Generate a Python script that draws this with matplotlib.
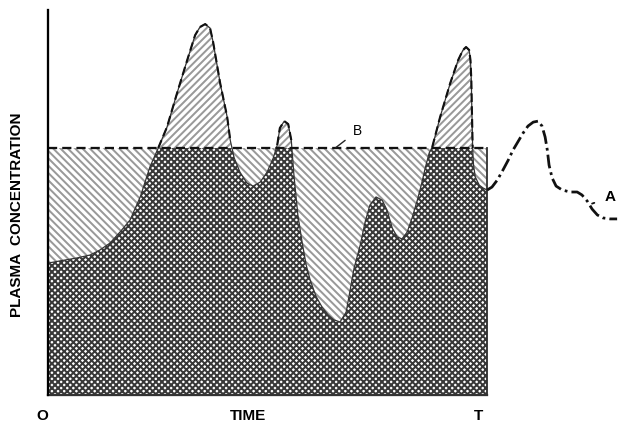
import numpy as np
import matplotlib
matplotlib.use("Agg")
import matplotlib.pyplot as plt

plt.rcParams['font.family'] = ['Liberation Sans', 'DejaVu Sans']
plt.rcParams['hatch.linewidth'] = 1.3

# plasma concentration (curve A) over the dosing interval 0..T
t_in = [0.00, 0.27, 0.66, 0.96, 1.18, 1.41, 1.64, 1.87, 2.10, 2.32, 2.51, 2.71,
        2.94, 3.17, 3.35, 3.46, 3.58, 3.69, 3.76, 3.92, 4.08, 4.15, 4.24, 4.37,
        4.53, 4.67, 4.83, 4.99, 5.13, 5.22, 5.28, 5.38, 5.47, 5.54, 5.60, 5.69,
        5.79, 5.88, 5.97, 6.10, 6.24, 6.38, 6.51, 6.65, 6.79, 6.88, 6.97, 7.11,
        7.22, 7.33, 7.47, 7.61, 7.72, 7.84, 7.95, 8.06, 8.18, 8.29, 8.41, 8.50,
        8.59, 8.68, 8.75, 8.93, 9.16, 9.34, 9.45, 9.52, 9.59, 9.62, 9.64, 9.65,
        9.66, 9.67, 9.69, 9.73, 9.82, 9.91, 10.00]
c_in = [5.34, 5.43, 5.55, 5.67, 5.87, 6.15, 6.60, 7.09, 8.02, 9.23, 10.00, 10.85,
        12.23, 13.56, 14.57, 14.90, 15.02, 14.86, 14.29, 12.63, 11.26, 10.32, 9.60, 9.03,
        8.58, 8.46, 8.62, 9.03, 9.60, 10.12, 10.81, 11.09, 10.97, 10.32, 8.91, 7.29,
        6.15, 5.26, 4.66, 4.01, 3.56, 3.24, 3.04, 2.96, 3.36, 4.25, 5.14, 6.07,
        7.00, 7.69, 8.02, 7.89, 7.49, 6.76, 6.40, 6.32, 6.60, 7.17, 7.89, 8.50,
        9.19, 9.80, 10.04, 11.26, 12.63, 13.56, 13.97, 14.09, 13.97, 13.56, 12.75, 11.74,
        10.93, 10.00, 9.31, 8.83, 8.50, 8.38, 8.30]

# curve A after T
t_out = [10.00, 10.11, 10.23, 10.36, 10.48, 10.59, 10.71, 10.82, 10.93, 11.05,
         11.16, 11.25, 11.32, 11.37, 11.41, 11.48, 11.57, 11.71, 11.89, 12.05,
         12.16, 12.28, 12.39, 12.51, 12.64, 12.80, 12.96]
c_out = [8.30, 8.42, 8.70, 9.11, 9.51, 9.92, 10.28, 10.61, 10.89, 11.05,
         11.09, 10.89, 10.45, 9.92, 9.31, 8.79, 8.46, 8.30, 8.22, 8.22,
         8.10, 7.85, 7.53, 7.29, 7.17, 7.13, 7.13]

T = 10.0
B = 10.0  # level of line B

t = np.array(t_in)
c = np.array(c_in)

fig = plt.figure(figsize=(618 / 110, 422 / 110), dpi=110)
ax = fig.add_axes([48 / 618, 27 / 422, 570 / 618, 385 / 422])
ax.set_xlim(0, 12.98)
ax.set_ylim(0, 15.59)

# area under curve, capped at B
ax.fill_between(t, 0, c, facecolor='white', edgecolor='#383838', hatch='xxxxxx', linewidth=0)
# curve above B
ax.fill_between(t, B, c, where=c > B, interpolate=True, facecolor='white',
                edgecolor='#999999', hatch='/////', linewidth=0)
# gap between curve and B
ax.fill_between(t, c, B, where=c < B, interpolate=True, facecolor='white',
                edgecolor='#999999', hatch='\\\\\\\\\\', linewidth=0)

# outline of curve inside the interval
ax.plot(t, c, color='#333333', lw=0.8)
ax.plot(t, np.ma.masked_where(c < B, c), color='#111111', lw=1.4, ls=(0, (4, 2)))

# line B and the box edges
ax.plot([0, T], [B, B], color='#111111', lw=1.5, ls=(0, (4, 2.2)))
ax.plot([T, T], [0, B], color='#333333', lw=1.2)
ax.plot([0, T], [0, 0], color='#333333', lw=1.5, clip_on=False)

# curve A continuing after T
ax.plot(t_out, c_out, color='#111111', lw=1.8, ls=(0, (5, 1.5, 1, 1.5)), clip_on=False)

for side in ['top', 'right', 'bottom']:
    ax.spines[side].set_visible(False)
ax.spines['left'].set_linewidth(1.5)
ax.set_xticks([])
ax.set_yticks([])

# labels
ax.text(-0.14, -0.55, 'O', ha='center', va='top', fontsize=10, fontweight='bold')
ax.text(4.55, -0.55, 'TIME', ha='center', va='top', fontsize=10, fontweight='bold')
ax.text(9.80, -0.55, 'T', ha='center', va='top', fontsize=10, fontweight='bold')
ax.text(-0.7, 7.3, 'PLASMA  CONCENTRATION', rotation=90, ha='center', va='center',
        fontsize=10, fontweight='bold')

ax.annotate('B', xy=(6.54, B), xytext=(7.05, 10.7), ha='center', va='center',
            fontsize=9, arrowprops=dict(arrowstyle='-', lw=0.9, color='#222222',
                                        shrinkA=4, shrinkB=0))
ax.annotate('A', xy=(12.39, 7.75), xytext=(12.8, 8.0), ha='center', va='center',
            fontsize=10, fontweight='bold', annotation_clip=False,
            arrowprops=dict(arrowstyle='-', lw=1.2, color='#111111', shrinkA=5, shrinkB=0))

fig.savefig('out.png', dpi=110)
